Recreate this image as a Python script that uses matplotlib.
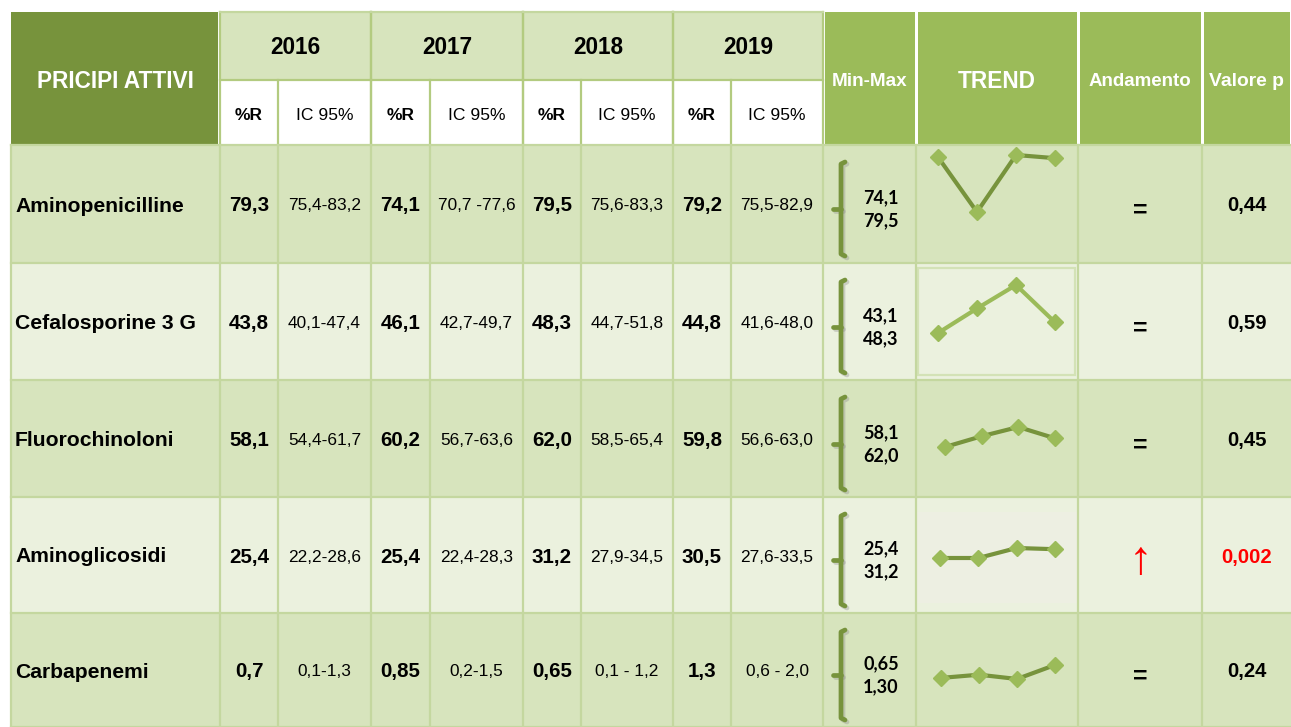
import matplotlib
matplotlib.use("Agg")
import matplotlib.pyplot as plt
from matplotlib.patches import Rectangle

# ---------------- data ----------------
principi = ["Aminopenicilline", "Cefalosporine 3 G", "Fluorochinoloni", "Aminoglicosidi", "Carbapenemi"]
years = ["2016", "2017", "2018", "2019"]
r_2016 = ["79,3", "43,8", "58,1", "25,4", "0,7"]
ic_2016 = ["75,4-83,2", "40,1-47,4", "54,4-61,7", "22,2-28,6", "0,1-1,3"]
r_2017 = ["74,1", "46,1", "60,2", "25,4", "0,85"]
ic_2017 = ["70,7 -77,6", "42,7-49,7", "56,7-63,6", "22,4-28,3", "0,2-1,5"]
r_2018 = ["79,5", "48,3", "62,0", "31,2", "0,65"]
ic_2018 = ["75,6-83,3", "44,7-51,8", "58,5-65,4", "27,9-34,5", "0,1 - 1,2"]
r_2019 = ["79,2", "44,8", "59,8", "30,5", "1,3"]
ic_2019 = ["75,5-82,9", "41,6-48,0", "56,6-63,0", "27,6-33,5", "0,6 - 2,0"]
min_vals = ["74,1", "43,1", "58,1", "25,4", "0,65"]
max_vals = ["79,5", "48,3", "62,0", "31,2", "1,30"]
andamento = ["=", "=", "=", "\u2191", "="]
valore_p = ["0,44", "0,59", "0,45", "0,002", "0,24"]
significant = [False, False, False, True, False]

# ---------------- style / layout ----------------
W, H = 1291, 727
DARK = "#77933C"
MID = "#9BBB59"
LIGHT = "#D7E4BD"
PALE = "#EBF1DE"
GRID = "#C4D79F"
HGRID = "#B3CB80"
ARIAL = ["Liberation Sans", "DejaVu Sans"]
CAL = ["Lato", "DejaVu Sans"]

# column edges (pixels)
col_x = [11, 220, 278, 371, 430, 523, 581, 673, 731, 823, 916, 1078, 1202, 1291]
row_y = [145, 263, 380, 497, 613, 727]
head_top, head_mid = 12, 80
row_bg = [LIGHT, PALE, LIGHT, PALE, LIGHT]

# sparkline placement: x start/end and pixel y for the max / min value
spark_x0 = [938, 938, 945, 940, 941]
spark_x1 = 1055
spark_ymax_px = [155, 285, 427, 548, 665]
spark_ymin_px = [212, 333, 447, 558, 679]
spark_line = [DARK, MID, DARK, DARK, DARK]

fig = plt.figure(figsize=(W / 100, H / 100), dpi=100)
fig.patch.set_facecolor("white")
ax = fig.add_axes([0, 0, 1, 1])
ax.set_xlim(0, W)
ax.set_ylim(H, 0)
ax.axis("off")


def rect(x0, y0, x1, y1, fc, ec="none", lw=0, z=1):
    ax.add_patch(Rectangle((x0, y0), x1 - x0, y1 - y0, facecolor=fc,
                           edgecolor=ec, linewidth=lw, zorder=z))


def txt(x, y, s, size, bold=False, color="black", fam=ARIAL, ha="center"):
    ax.text(x, y, s, fontsize=size, fontweight="bold" if bold else "normal",
            color=color, family=fam, ha=ha, va="center", zorder=10)


# ---------------- header ----------------
rect(col_x[0], head_top, col_x[1] - 2, row_y[0], DARK)
txt((col_x[0] + col_x[1]) / 2, head_mid + 1, "PRICIPI ATTIVI", 16.3, True, "white")

for i, yr in enumerate(years):
    xa, xb, xc = col_x[1 + 2 * i], col_x[2 + 2 * i], col_x[3 + 2 * i]
    rect(xa, head_top, xc, head_mid, LIGHT)
    rect(xa, head_mid, xc, row_y[0], "white")
    txt((xa + xc) / 2, 47, yr, 16.3, True)
    txt((xa + xb) / 2, 115, "%R", 12.5, True)
    txt((xb + xc) / 2, 115, "IC 95%", 12.6)
    for xx in (xa, xc):
        ax.plot([xx, xx], [head_top, row_y[0]], color=HGRID, lw=1.6, zorder=3)
    ax.plot([xb, xb], [head_mid, row_y[0]], color=HGRID, lw=1.6, zorder=3)
    ax.plot([xa, xc], [head_top, head_top], color=GRID, lw=1.6, zorder=3)
    ax.plot([xa, xc], [head_mid, head_mid], color=HGRID, lw=1.6, zorder=3)

right_heads = ["Min-Max", "TREND", "Andamento", "Valore p"]
right_sizes = [13.6, 16.3, 13.5, 13.9]
for j, lab in enumerate(right_heads):
    xa, xb = col_x[9 + j], col_x[10 + j]
    rect(xa + 1.5, head_top, xb - 1.5, row_y[0], MID)
    txt((xa + xb) / 2, head_mid + 1, lab, right_sizes[j], True, "white")

# ---------------- body ----------------
r_cols = [r_2016, r_2017, r_2018, r_2019]
ic_cols = [ic_2016, ic_2017, ic_2018, ic_2019]
for r in range(len(principi)):
    y0, y1 = row_y[r], row_y[r + 1]
    yc = (y0 + y1) / 2
    yt = yc + 2
    rect(col_x[0], y0, col_x[-1], y1, row_bg[r], z=0)
    txt(15, yt, principi[r], 15.2, True, ha="left")
    for i in range(4):
        xa, xb, xc = col_x[1 + 2 * i], col_x[2 + 2 * i], col_x[3 + 2 * i]
        txt((xa + xb) / 2, yt, r_cols[i][r], 14.8, True)
        txt((xb + xc) / 2, yt, ic_cols[i][r], 12.4)

    # min-max bracket
    bx = 841
    bt, bb = y0 + 17, y1 - 7
    bm = (bt + bb) / 2
    for dx, dy, col, al in ((2, 2, "#8a8a8a", 0.35), (0, 0, DARK, 1.0)):
        ax.plot([bx + 4 + dx, bx + dx, bx + dx, bx + 4 + dx],
                [bt + dy, bt + 2 + dy, bb - 2 + dy, bb + dy],
                color=col, alpha=al, lw=3.4, solid_capstyle="round",
                solid_joinstyle="round", zorder=4)
        ax.plot([bx - 8 + dx, bx + dx], [bm + dy, bm + dy], color=col,
                alpha=al, lw=3.4, solid_capstyle="round", zorder=4)
    txt(881, yc - 6, min_vals[r], 13, True, fam=CAL)
    txt(881, yc + 17, max_vals[r], 13, True, fam=CAL)

    # andamento & p value
    colr = "#FF0000" if significant[r] else "black"
    if andamento[r] == "=":
        txt((col_x[11] + col_x[12]) / 2, yc + 7, andamento[r], 18, True, colr)
    else:
        txt((col_x[11] + col_x[12]) / 2, yc + 7, andamento[r], 34, False, colr)
    txt((col_x[12] + col_x[13]) / 2, yt, valore_p[r], 14.6, True, colr)

# sparkline frames (as in reference)
rect(918, 268, 1075, 375, "none", ec="#D3E2B6", lw=1.6, z=2)
rect(916, 512, 1077, 603, "#EDEFE2", ec="none", lw=0, z=1)

# grid lines in body
for xx in col_x[:-1]:
    ax.plot([xx, xx], [row_y[0], row_y[-1]], color=GRID, lw=1.6, zorder=3)
for yy in row_y:
    ax.plot([col_x[0], col_x[-1]], [yy, yy], color=GRID, lw=1.6, zorder=3)

# ---------------- sparklines ----------------
for r in range(len(principi)):
    vals = [float(c[r].replace(",", ".")) for c in r_cols]
    x0 = spark_x0[r]
    ytop, ybot = spark_ymax_px[r], spark_ymin_px[r]
    sax = fig.add_axes([x0 / W, 1 - ybot / H, (spark_x1 - x0) / W, (ybot - ytop) / H])
    sax.set_xlim(0, 3)
    sax.set_ylim(min(vals), max(vals))
    sax.axis("off")
    sax.patch.set_alpha(0)
    sax.plot(range(4), vals, color=spark_line[r], lw=3.0, clip_on=False, zorder=2)
    sax.plot(range(4), vals, linestyle="none", marker="D", markersize=8.5,
             markerfacecolor=MID, markeredgecolor=MID, clip_on=False, zorder=3)

fig.savefig("out.png", dpi=100, facecolor="white")
